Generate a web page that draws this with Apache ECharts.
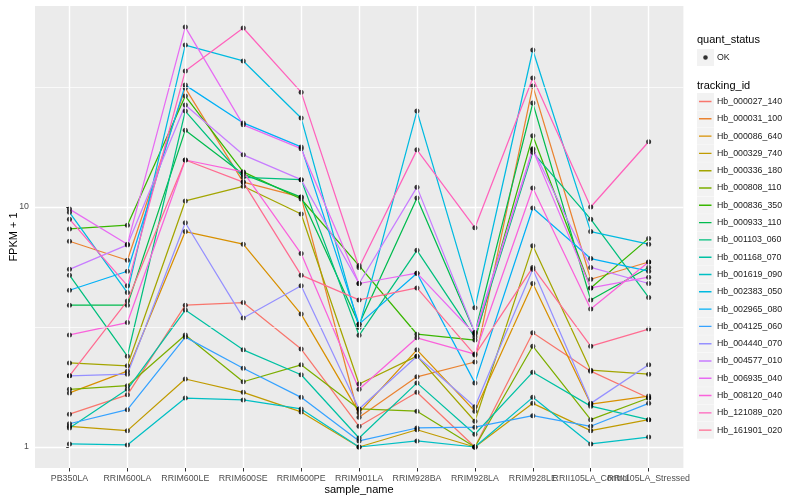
<!DOCTYPE html>
<html><head><meta charset="utf-8">
<script src="https://cdn.jsdelivr.net/npm/echarts@6/dist/echarts.min.js"></script>
<style>html,body{margin:0;padding:0;background:#fff}#chart{width:800px;height:500px}</style>
</head><body><div id="chart"></div>
<script>
// ---------- data ----------
const categories = ['PB350LA','RRIM600LA','RRIM600LE','RRIM600SE','RRIM600PE','RRIM901LA','RRIM928BA','RRIM928LA','RRIM928LE','RRII105LA_Control','RRII105LA_Stressed'];
const trackingIds = ['Hb_000027_140','Hb_000031_100','Hb_000086_640','Hb_000329_740','Hb_000336_180','Hb_000808_110','Hb_000836_350','Hb_000933_110','Hb_001103_060','Hb_001168_070','Hb_001619_090','Hb_002383_050','Hb_002965_080','Hb_004125_060','Hb_004440_070','Hb_004577_010','Hb_006935_040','Hb_008120_040','Hb_121089_020','Hb_161901_020'];
const quantStatus = ['OK'];

// FPKM + 1 per sample (same order as categories)
const hb_000027_140 = [1.37,1.65,3.9,4.0,2.56,1.22,1.69,1.0,2.99,2.07,1.6];
const hb_000031_100 = [7.2,6.0,31.3,12.7,11.0,1.33,1.96,2.26,31.9,5.0,5.9];
const hb_000086_640 = [1.68,2.07,7.9,7.0,3.58,1.39,2.54,1.41,4.8,1.51,1.63];
const hb_000329_740 = [1.22,1.17,1.92,1.69,1.4,1.0,1.18,1.0,1.52,1.17,1.3];
const hb_000336_180 = [2.24,2.18,10.6,12.2,9.35,1.83,2.39,1.28,6.9,2.09,2.01];
const hb_000808_110 = [1.74,1.8,2.93,1.87,2.2,1.44,1.41,1.0,2.63,1.3,1.6];
const hb_000836_350 = [8.1,8.4,29.0,14.0,10.8,5.7,2.95,2.79,19.8,4.6,7.4];
const hb_000933_110 = [3.9,3.9,20.9,13.7,11.0,3.25,10.9,2.99,27.1,4.1,5.6];
const hb_001103_060 = [5.2,2.39,25.1,13.3,13.0,2.92,6.6,2.87,16.9,8.9,4.2];
const hb_001168_070 = [1.2,1.74,3.72,2.54,2.0,1.09,1.85,1.13,2.05,1.48,1.3];
const hb_001619_090 = [1.03,1.02,1.6,1.57,1.44,1.0,1.06,1.0,1.61,1.03,1.1];
const hb_002383_050 = [9.5,4.4,47.3,40.6,23.5,3.15,25.1,3.8,45.1,7.9,7.0];
const hb_002965_080 = [4.5,5.4,32.2,22.4,17.8,3.25,5.3,1.85,9.9,6.1,5.4];
const hb_004125_060 = [1.25,1.43,2.87,2.13,1.61,1.06,1.2,1.21,1.35,1.22,1.52];
const hb_004440_070 = [1.98,2.01,8.6,3.45,4.7,1.44,2.39,1.47,5.5,1.52,2.2];
const hb_004577_010 = [5.5,6.95,26.6,16.5,13.0,4.8,12.1,3.0,17.5,5.6,4.8];
const hb_006935_040 = [9.8,7.0,56.2,22.0,17.5,4.8,5.3,2.95,17.3,4.6,5.1];
const hb_008120_040 = [2.93,3.3,15.7,14.0,6.4,1.74,2.85,2.44,12.0,3.76,5.9];
const hb_121089_020 = [8.9,4.7,36.9,55.7,30.1,5.6,17.3,8.2,34.5,10.0,18.7];
const hb_161901_020 = [1.98,4.06,15.7,12.7,5.2,4.1,4.6,2.42,5.6,2.63,3.1];

const seriesValues = [hb_000027_140,hb_000031_100,hb_000086_640,hb_000329_740,hb_000336_180,hb_000808_110,hb_000836_350,hb_000933_110,hb_001103_060,hb_001168_070,hb_001619_090,hb_002383_050,hb_002965_080,hb_004125_060,hb_004440_070,hb_004577_010,hb_006935_040,hb_008120_040,hb_121089_020,hb_161901_020];

const yTicks = [1, 10];
const yMinorBreaks = [3.1623, 31.623];
const yLimits = [0.8175, 68.79];

// ---------- style ----------
const palette = ['#F8766D','#EA8331','#D89000','#C09B00','#A3A500','#7CAE00','#39B600','#00BB4E','#00BF7D','#00C1A3','#00BFC4','#00BAE0','#00B0F6','#35A2FF','#9590FF','#C77CFF','#E76BF3','#FA62DB','#FF62BC','#FF6C91'];
const FONT = 'Liberation Sans, Arial, Helvetica, sans-serif';
const keyBox = 17, keyPitch = 17.3, legendLeft = 697, iconW = 15;
const linePath = 'path://M0,0h0.01v0.01h-0.01z M0,17h0.01v0.01h-0.01z M15,17h0.01v0.01h-0.01z M2,7.8h12.5v1.4h-12.5z';
const dotPath = 'path://M0,0h0.01v0.01h-0.01z M15,17h0.01v0.01h-0.01z M6.2,8.5a2.3,2.3 0 1 0 4.6,0a2.3,2.3 0 1 0 -4.6,0z';

const chart = echarts.init(document.getElementById('chart'), null, {renderer: 'canvas'});

const pointData = [];
seriesValues.forEach(vals => vals.forEach((v, i) => pointData.push([categories[i], v])));

const keyRects = [];
keyRects.push({type:'rect', shape:{x:legendLeft, y:49, width:keyBox, height:keyBox}, style:{fill:'#F2F2F2'}, silent:true});
trackingIds.forEach((id, k) => keyRects.push({type:'rect', shape:{x:legendLeft, y:93 + k*keyPitch, width:keyBox, height:keyBox}, style:{fill:'#F2F2F2'}, silent:true}));

const option = {
  animation: false,
  backgroundColor: '#ffffff',
  textStyle: {fontFamily: FONT},
  title: [
    {text: 'quant_status', left: legendLeft, top: 34, padding: 0, textStyle: {fontSize: 11, fontWeight: 'normal', color: '#000', fontFamily: FONT}},
    {text: 'tracking_id', left: legendLeft, top: 80, padding: 0, textStyle: {fontSize: 11, fontWeight: 'normal', color: '#000', fontFamily: FONT}}
  ],
  graphic: keyRects,
  legend: [
    {data: quantStatus, orient: 'vertical', left: legendLeft, top: 49, padding: 0, itemWidth: iconW, itemHeight: keyBox,
     icon: dotPath, selectedMode: false, textStyle: {fontSize: 8.8, color: '#1a1a1a', fontFamily: FONT}},
    {data: trackingIds, orient: 'vertical', left: legendLeft, top: 93, padding: 0, itemWidth: iconW, itemHeight: keyBox, itemGap: keyPitch - keyBox,
     icon: linePath, selectedMode: false, textStyle: {fontSize: 8.8, color: '#1a1a1a', fontFamily: FONT}}
  ],
  grid: [
    {left: 35, right: 116.6, top: 6, bottom: 32, show: true, backgroundColor: '#EBEBEB', borderWidth: 0, containLabel: false, outerBoundsMode: 'none'},
    {left: 40.5, right: 122.4, top: 6, bottom: 32, show: false, containLabel: false, outerBoundsMode: 'none'}
  ],
  xAxis: [
    {type: 'value', gridIndex: 0, min: -0.6, max: 10.6, show: false},
    {type: 'category', gridIndex: 1, data: categories, boundaryGap: true,
     axisLine: {show: false},
     axisTick: {show: true, alignWithLabel: true, length: 3.5, lineStyle: {color: '#333333', width: 1}},
     axisLabel: {interval: 0, margin: 6, fontSize: 8.8, color: '#4D4D4D', fontFamily: FONT, hideOverlap: false},
     splitLine: {show: false},
     name: 'sample_name', nameLocation: 'middle', nameGap: 16, nameMoveOverlap: false,
     nameTextStyle: {fontSize: 11, color: '#000', fontFamily: FONT}}
  ],
  yAxis: [
    {type: 'log', logBase: 10, gridIndex: 0, min: yLimits[0], max: yLimits[1],
     axisLine: {show: false},
     axisTick: {show: true, length: 3.5, customValues: yTicks, lineStyle: {color: '#333333', width: 1}},
     axisLabel: {customValues: yTicks, margin: 6, fontSize: 8.8, color: '#4D4D4D', fontFamily: FONT,
                 formatter: v => (yTicks.indexOf(v) >= 0 ? String(v) : '')},
     splitLine: {show: true, lineStyle: {color: '#FFFFFF', width: 1.4}},
     minorTick: {show: false}, minorSplitLine: {show: false},
     name: 'FPKM + 1', nameLocation: 'middle', nameGap: 16, nameMoveOverlap: false,
     nameTextStyle: {fontSize: 11, color: '#000', fontFamily: FONT}},
    {type: 'log', logBase: 10, gridIndex: 1, min: yLimits[0], max: yLimits[1], show: false,
     axisTick: {show: false}, axisLabel: {show: false}, splitLine: {show: false}}
  ],
  series: [
    {type: 'line', xAxisIndex: 0, yAxisIndex: 0, data: [], silent: true, z: 1,
     markLine: {silent: true, symbol: 'none', animation: false, label: {show: false}, emphasis: {disabled: true},
                lineStyle: {color: '#FFFFFF', width: 0.7, type: 'solid'},
                data: yMinorBreaks.map(v => ({yAxis: v}))}},
    {type: 'line', xAxisIndex: 1, yAxisIndex: 1, data: [], silent: true, z: 1,
     markLine: {silent: true, symbol: 'none', animation: false, label: {show: false}, emphasis: {disabled: true},
                lineStyle: {color: '#FFFFFF', width: 1.4, type: 'solid'},
                data: categories.map(c => ({xAxis: c}))}}
  ].concat(trackingIds.map((id, k) => ({
    name: id, type: 'line', xAxisIndex: 1, yAxisIndex: 1, data: seriesValues[k],
    symbol: 'none', showSymbol: false, silent: true, z: 3,
    lineStyle: {width: 1.25, color: palette[k]}, itemStyle: {color: palette[k]},
    emphasis: {disabled: true}
  }))).concat([
    {name: 'OK', type: 'scatter', xAxisIndex: 1, yAxisIndex: 1, data: pointData,
     symbol: 'circle', symbolSize: 5, silent: true, z: 4,
     itemStyle: {color: '#000000'}, emphasis: {disabled: true}}
  ])
};
chart.setOption(option);
</script>
</body></html>
